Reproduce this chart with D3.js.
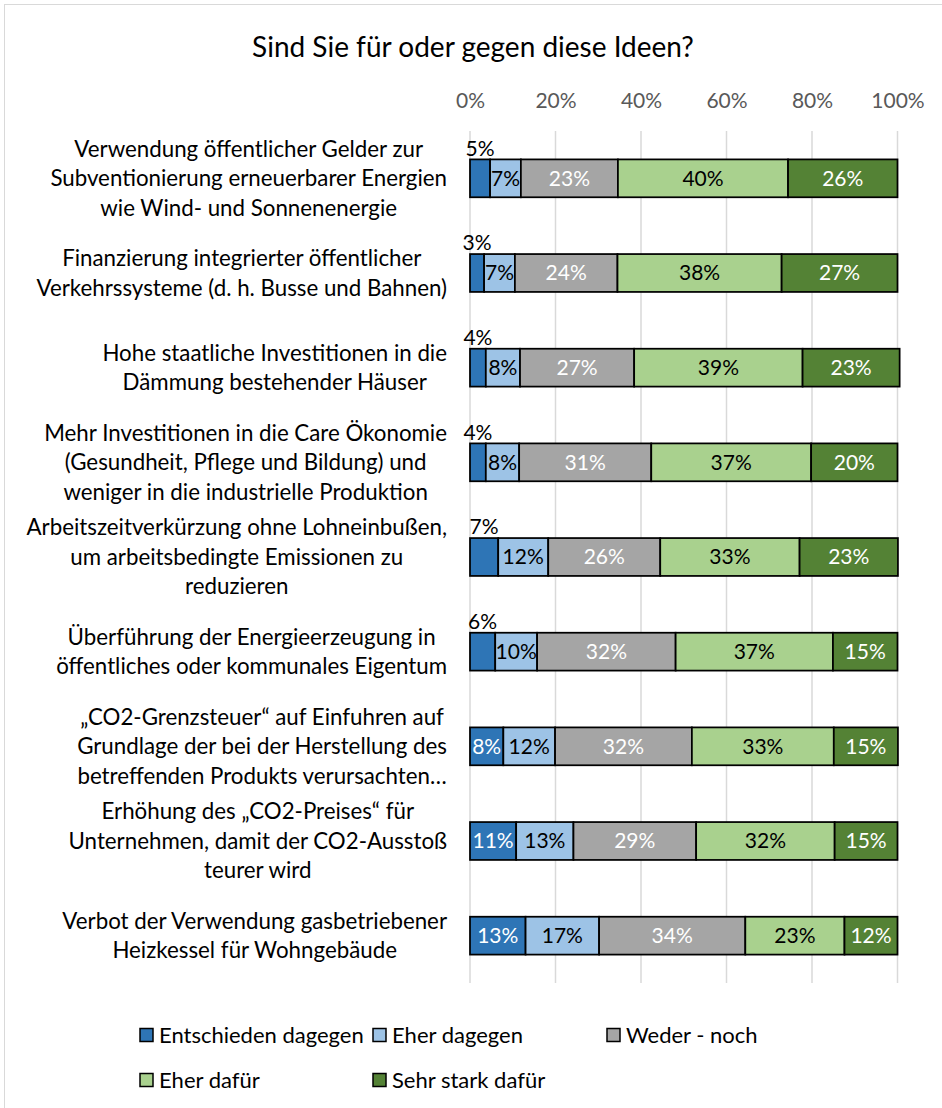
<!DOCTYPE html>
<html>
<head>
<meta charset="utf-8">
<script src="https://cdn.jsdelivr.net/npm/d3@7"></script>
<style>
  html, body { margin: 0; padding: 0; background: #fff; }
  svg { display: block; font-family: Lato, "Open Sans", sans-serif; }
</style>
</head>
<body>
<figure id="bars" style="margin:0"></figure>
<script>
// questions (line breaks as in the original chart)
const categories = [
  "Verwendung öffentlicher Gelder zur\nSubventionierung erneuerbarer Energien\nwie Wind- und Sonnenenergie",
  "Finanzierung integrierter öffentlicher\nVerkehrssysteme (d. h. Busse und Bahnen)",
  "Hohe staatliche Investitionen in die\nDämmung bestehender Häuser",
  "Mehr Investitionen in die Care Ökonomie\n(Gesundheit, Pflege und Bildung) und\nweniger in die industrielle Produktion",
  "Arbeitszeitverkürzung ohne Lohneinbußen,\num arbeitsbedingte Emissionen zu\nreduzieren",
  "Überführung der Energieerzeugung in\nöffentliches oder kommunales Eigentum",
  "„CO2-Grenzsteuer“ auf Einfuhren auf\nGrundlage der bei der Herstellung des\nbetreffenden Produkts verursachten…",
  "Erhöhung des „CO2-Preises“ für\nUnternehmen, damit der CO2-Ausstoß\nteurer wird",
  "Verbot der Verwendung gasbetriebener\nHeizkessel für Wohngebäude"
];

const seriesNames = ["Entschieden dagegen", "Eher dagegen", "Weder - noch", "Eher dafür", "Sehr stark dafür"];

// shares in percent, one value per question
const entschiedenDagegen = [4.7, 3.3, 3.7, 3.7, 6.6, 5.9, 7.8, 10.8, 13.0];
const eherDagegen        = [7.2, 7.2, 8.0, 7.8, 11.7, 9.8, 12.1, 13.4, 17.2];
const wederNoch          = [22.7, 24.0, 26.7, 30.9, 26.2, 32.4, 32.0, 28.7, 34.2];
const eherDafuer         = [39.8, 38.4, 39.4, 37.4, 32.6, 36.8, 33.2, 32.4, 23.2];
const sehrStarkDafuer    = [25.6, 27.1, 22.7, 20.2, 23.0, 15.1, 15.0, 14.7, 12.4];

const tickValues = [0, 20, 40, 60, 80, 100];

const colors = ["#2E75B6", "#9DC3E6", "#A5A5A5", "#A9D18E", "#548235"];
const labelColors = ["#fff", "#000", "#fff", "#000", "#fff"];

const width = 942, height = 1108;

const svg = d3.select("figure#bars")
  .append("svg")
  .attr("width", width)
  .attr("height", height);

// chart frame
svg.append("rect")
  .attr("x", 4.5).attr("y", 4.5)
  .attr("width", 940).attr("height", 1110)
  .attr("fill", "#fff")
  .attr("stroke", "#D9D9D9")
  .attr("stroke-width", 1);

// title
svg.append("text")
  .attr("x", 473).attr("y", 47)
  .attr("dy", "0.35em")
  .attr("text-anchor", "middle")
  .style("font-size", "28px")
  .style("fill", "#000")
  .text("Sind Sie für oder gegen diese Ideen?");

const table = categories.map((c, i) => ({
  cat: i,
  [seriesNames[0]]: entschiedenDagegen[i],
  [seriesNames[1]]: eherDagegen[i],
  [seriesNames[2]]: wederNoch[i],
  [seriesNames[3]]: eherDafuer[i],
  [seriesNames[4]]: sehrStarkDafuer[i]
}));

const stacked = d3.stack().keys(seriesNames)(table);

const x = d3.scaleLinear()
  .domain([0, 100])
  .range([470, 897.5]);

const y = d3.scaleBand()
  .domain(d3.range(categories.length))
  .range([131, 983])
  .paddingInner(0.6)
  .paddingOuter(0.3);

// top axis: gridlines + labels
const axis = svg.append("g")
  .call(d3.axisTop(x).tickValues(tickValues).tickSize(0).tickPadding(0)
    .tickFormat(d => d + "%"));
axis.select(".domain").remove();
axis.selectAll("text")
  .attr("y", 101)
  .attr("dy", "0.35em")
  .style("font-family", "Lato, 'Open Sans', sans-serif")
  .style("font-size", "21px")
  .style("fill", "#595959");

svg.append("g")
  .selectAll("line")
  .data(tickValues)
  .enter()
  .append("line")
  .attr("x1", d => x(d)).attr("x2", d => x(d))
  .attr("y1", 131).attr("y2", 983)
  .attr("stroke", "#D9D9D9")
  .attr("stroke-width", 1.5);

// category labels, centred lines, block right-aligned to the axis
const labels = svg.append("g");
categories.forEach((c, i) => {
  const lines = c.split("\n");
  const g = labels.append("g");
  const lh = 29.5;
  const cy = y(i) + y.bandwidth() / 2;
  const texts = g.selectAll("text")
    .data(lines)
    .enter()
    .append("text")
    .attr("y", (d, k) => cy + (k - (lines.length - 1) / 2) * lh)
    .attr("dy", "0.35em")
    .attr("text-anchor", "middle")
    .style("font-size", "22.3px")
    .style("fill", "#000")
    .text(d => d);
  const maxW = d3.max(texts.nodes(), n => n.getComputedTextLength());
  texts.attr("x", 447 - maxW / 2);
});

// bars
const layers = svg.append("g")
  .selectAll("g")
  .data(stacked)
  .enter()
  .append("g")
  .attr("fill", (d, i) => colors[i]);

layers.selectAll("rect")
  .data(d => d)
  .enter()
  .append("rect")
  .attr("x", d => x(d[0]))
  .attr("y", d => y(d.data.cat))
  .attr("width", d => x(d[1]) - x(d[0]))
  .attr("height", y.bandwidth())
  .attr("stroke", "#000")
  .attr("stroke-width", 1.75);

// value labels
stacked.forEach((s, si) => {
  svg.append("g")
    .selectAll("text")
    .data(s)
    .enter()
    .append("text")
    .attr("x", d => x((d[0] + d[1]) / 2))
    .attr("y", d => {
      const v = d[1] - d[0];
      if (si === 0 && v < 7.5) return y(d.data.cat) - 11;   // small ones sit above the bar
      return y(d.data.cat) + y.bandwidth() / 2;
    })
    .attr("dy", "0.35em")
    .attr("text-anchor", "middle")
    .style("font-size", "21px")
    .style("fill", d => (si === 0 && (d[1] - d[0]) < 7.5) ? "#000" : labelColors[si])
    .text(d => Math.round(d[1] - d[0]) + "%");
});

// legend
const legendPos = [[140, 1035], [373, 1035], [607, 1035], [140, 1080], [373, 1080]];
const legend = svg.append("g")
  .selectAll("g")
  .data(seriesNames)
  .enter()
  .append("g")
  .attr("transform", (d, i) => "translate(" + legendPos[i][0] + "," + legendPos[i][1] + ")");

legend.append("rect")
  .attr("x", 0).attr("y", -6.5)
  .attr("width", 13).attr("height", 13)
  .attr("fill", (d, i) => colors[i])
  .attr("stroke", "#000")
  .attr("stroke-width", 1.5);

legend.append("text")
  .attr("x", 19)
  .attr("dy", "0.35em")
  .style("font-size", "22px")
  .style("fill", "#000")
  .text(d => d);
</script>
</body>
</html>
